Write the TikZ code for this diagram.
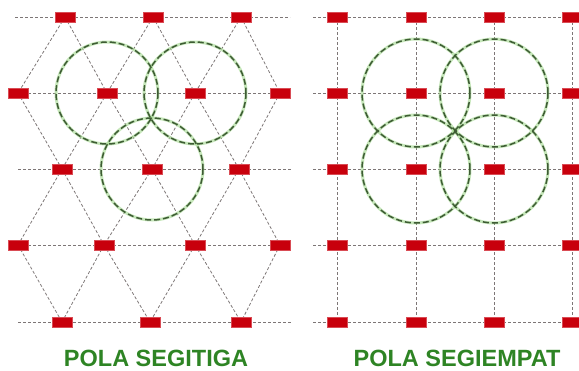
\documentclass[tikz,border=0pt]{standalone}
\usepackage{fontspec}
\setmainfont{Liberation Sans}
\usetikzlibrary{backgrounds}
\definecolor{piercol}{RGB}{200,0,12}
\definecolor{gridcol}{RGB}{125,118,118}
\definecolor{circcol}{RGB}{62,92,52}
\definecolor{glowcol}{RGB}{160,215,140}
\definecolor{titlecol}{RGB}{46,132,36}
\begin{document}
\begin{tikzpicture}[x=1pt,y=-1pt,
  pierbox/.style={rectangle,fill=piercol,draw=piercol!70!white,line width=0.4pt,minimum width=20pt,minimum height=10pt,inner sep=0pt},
  gridline/.style={draw=gridcol,line width=0.8pt,dash pattern=on 3pt off 2pt},
  circline/.style={draw=circcol,line width=1.5pt,dash pattern=on 6pt off 3pt},
  circglow/.style={draw=glowcol,line width=3pt,opacity=0.6},
  titletext/.style={text=titlecol,font=\bfseries\fontsize{23.5}{26}\selectfont,inner sep=0pt}]
\useasboundingbox (0,0) rectangle (579,370);
% ---------------- left panel: triangle pattern ----------------
\foreach \n/\x/\y in {L11/65/17, L12/153/17, L13/241/17,
  L21/18/93, L22/107/93, L23/195/93, L24/280/93,
  L31/62/169, L32/152/169, L33/239/169,
  L41/18/245, L42/104/245, L43/195/245, L44/280/245,
  L51/62/322, L52/150/322, L53/241/322}
  \node[pierbox] (\n) at (\x,\y) {};
\coordinate (h1a) at (15,17);  \coordinate (h1b) at (290,17);
\coordinate (h3a) at (18,169); \coordinate (h3b) at (292,169);
\coordinate (h4b) at (292,245);
\coordinate (h5a) at (18,322); \coordinate (h5b) at (292,322);
% ---------------- right panel: square pattern ----------------
\foreach \r/\y in {1/17,2/93,3/169,4/245,5/322}
  \foreach \c/\x in {1/337,2/416,3/494,4/572}
    \node[pierbox] (R\r\c) at (\x,\y) {};
\foreach \r/\y in {1/17,2/93,3/169,4/245,5/322}{
  \coordinate (ra\r) at (313,\y);
  \coordinate (rb\r) at (579,\y);
}
\begin{scope}[on background layer]
  % left grid
  \draw[gridline] (h1a) -- (h1b);
  \draw[gridline] (L21.center) -- (L24.center);
  \draw[gridline] (h3a) -- (h3b);
  \draw[gridline] (L41.center) -- (h4b);
  \draw[gridline] (h5a) -- (h5b);
  \foreach \a/\b in {L11/L21, L11/L22, L12/L22, L12/L23, L13/L23, L13/L24,
    L21/L31, L22/L31, L22/L32, L23/L32, L23/L33, L24/L33,
    L31/L41, L31/L42, L32/L42, L32/L43, L33/L43, L33/L44,
    L41/L51, L42/L51, L42/L52, L43/L52, L43/L53, L44/L53}
    \draw[gridline] (\a.center) -- (\b.center);
  % right grid
  \foreach \r in {1,...,5}
    \draw[gridline] (ra\r) -- (rb\r);
  \foreach \c in {1,...,4}
    \draw[gridline] (R1\c.center) -- (R5\c.center);
  % circles
  \foreach \n in {L22,L23,L32}
    \draw[circglow] (\n.center) circle[radius=51];
  \foreach \n in {R22,R23,R32,R33}
    \draw[circglow] (\n.center) circle[radius=54];
  \foreach \n in {L22,L23,L32}
    \draw[circline] (\n.center) circle[radius=51];
  \foreach \n in {R22,R23,R32,R33}
    \draw[circline] (\n.center) circle[radius=54];
\end{scope}
% titles
\node[titletext] (t1) at (156,358) {POLA SEGITIGA};
\node[titletext] (t2) at (457,358) {POLA SEGIEMPAT};
\end{tikzpicture}
\end{document}
